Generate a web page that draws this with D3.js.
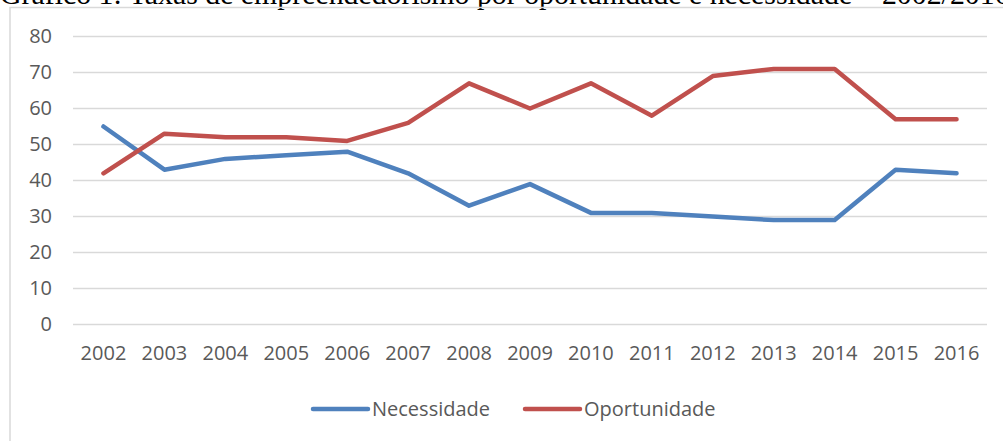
<!DOCTYPE html>
<html><head><meta charset="utf-8">
<script src="https://cdn.jsdelivr.net/npm/d3@7"></script>
<style>body{margin:0;background:#fff;overflow:hidden}</style>
</head><body>
<script>
const years = ["2002","2003","2004","2005","2006","2007","2008","2009","2010","2011","2012","2013","2014","2015","2016"];
const necessidade = [55,43,46,47,48,42,33,39,31,31,30,29,29,43,42];
const oportunidade = [42,53,52,52,51,56,67,60,67,58,69,71,71,57,57];
const yTicks = [0,10,20,30,40,50,60,70,80];
const seriesNames = ["Necessidade","Oportunidade"];
const colors = ["#4F81BD","#C0504D"];
const title = "Gráfico 1: Taxas de empreendedorismo por oportunidade e necessidade – 2002/2016";

(function () {
const W = 1003, H = 441;
const svg = d3.select("body").append("svg").attr("width", W).attr("height", H);

// title (caption line of a document, cut off at top)
const t = svg.append("text").attr("x", 0).attr("y", 4)
  .attr("font-family", "'Liberation Serif', 'Times New Roman', serif")
  .attr("font-size", 20).attr("fill", "#000").text(title);
const natural = t.node().getComputedTextLength();
t.attr("font-size", 20 * 1010 / natural);

// chart border
svg.append("rect").attr("x", 10).attr("y", 7.5).attr("width", 1010).attr("height", 450)
  .attr("fill", "none").attr("stroke", "#d9d9d9").attr("stroke-width", 1.5);

const pL = 73, pR = 987, pT = 36.5, pB = 324.5;
const x = d3.scaleBand().domain(years).range([pL, pR]);
const y = d3.scaleLinear().domain([0, 80]).range([pB, pT]);
const font = "'Open Sans', sans-serif";
const fs = 20;

// gridlines
svg.append("g").selectAll("line").data(yTicks).join("line")
  .attr("x1", pL).attr("x2", pR)
  .attr("y1", d => y(d)).attr("y2", d => y(d))
  .attr("stroke", "#d9d9d9").attr("stroke-width", 1.5);

// y axis
const yAxis = svg.append("g").attr("transform", `translate(${pL},0)`)
  .call(d3.axisLeft(y).tickValues(yTicks).tickSize(0).tickPadding(21));
yAxis.select(".domain").remove();
yAxis.selectAll("text").attr("font-family", font).attr("font-size", fs).attr("fill", "#595959");

// x axis
const xAxis = svg.append("g").attr("transform", `translate(0,${pB})`)
  .call(d3.axisBottom(x).tickSize(0).tickPadding(21));
xAxis.select(".domain").remove();
xAxis.selectAll("text").attr("font-family", font).attr("font-size", fs).attr("fill", "#595959");

// lines
const data = [necessidade, oportunidade];
const line = d3.line().x((d, i) => x(years[i]) + x.bandwidth() / 2).y(d => y(d));
svg.append("g").selectAll("path").data(data).join("path")
  .attr("d", d => line(d)).attr("fill", "none")
  .attr("stroke", (d, i) => colors[i]).attr("stroke-width", 4.5)
  .attr("stroke-linejoin", "round").attr("stroke-linecap", "round");

// legend
const legendX = [313, 525];
const lg = svg.append("g").selectAll("g").data(seriesNames).join("g")
  .attr("transform", (d, i) => `translate(${legendX[i]},409)`);
lg.append("line").attr("x1", 0).attr("x2", 55).attr("y1", 0).attr("y2", 0)
  .attr("stroke", (d, i) => colors[i]).attr("stroke-width", 4.5).attr("stroke-linecap", "round");
lg.append("text").attr("x", 59).attr("y", 0).attr("dy", "0.35em")
  .attr("font-family", font).attr("font-size", fs).attr("fill", "#595959").text(d => d);
})();
</script>
</body></html>
